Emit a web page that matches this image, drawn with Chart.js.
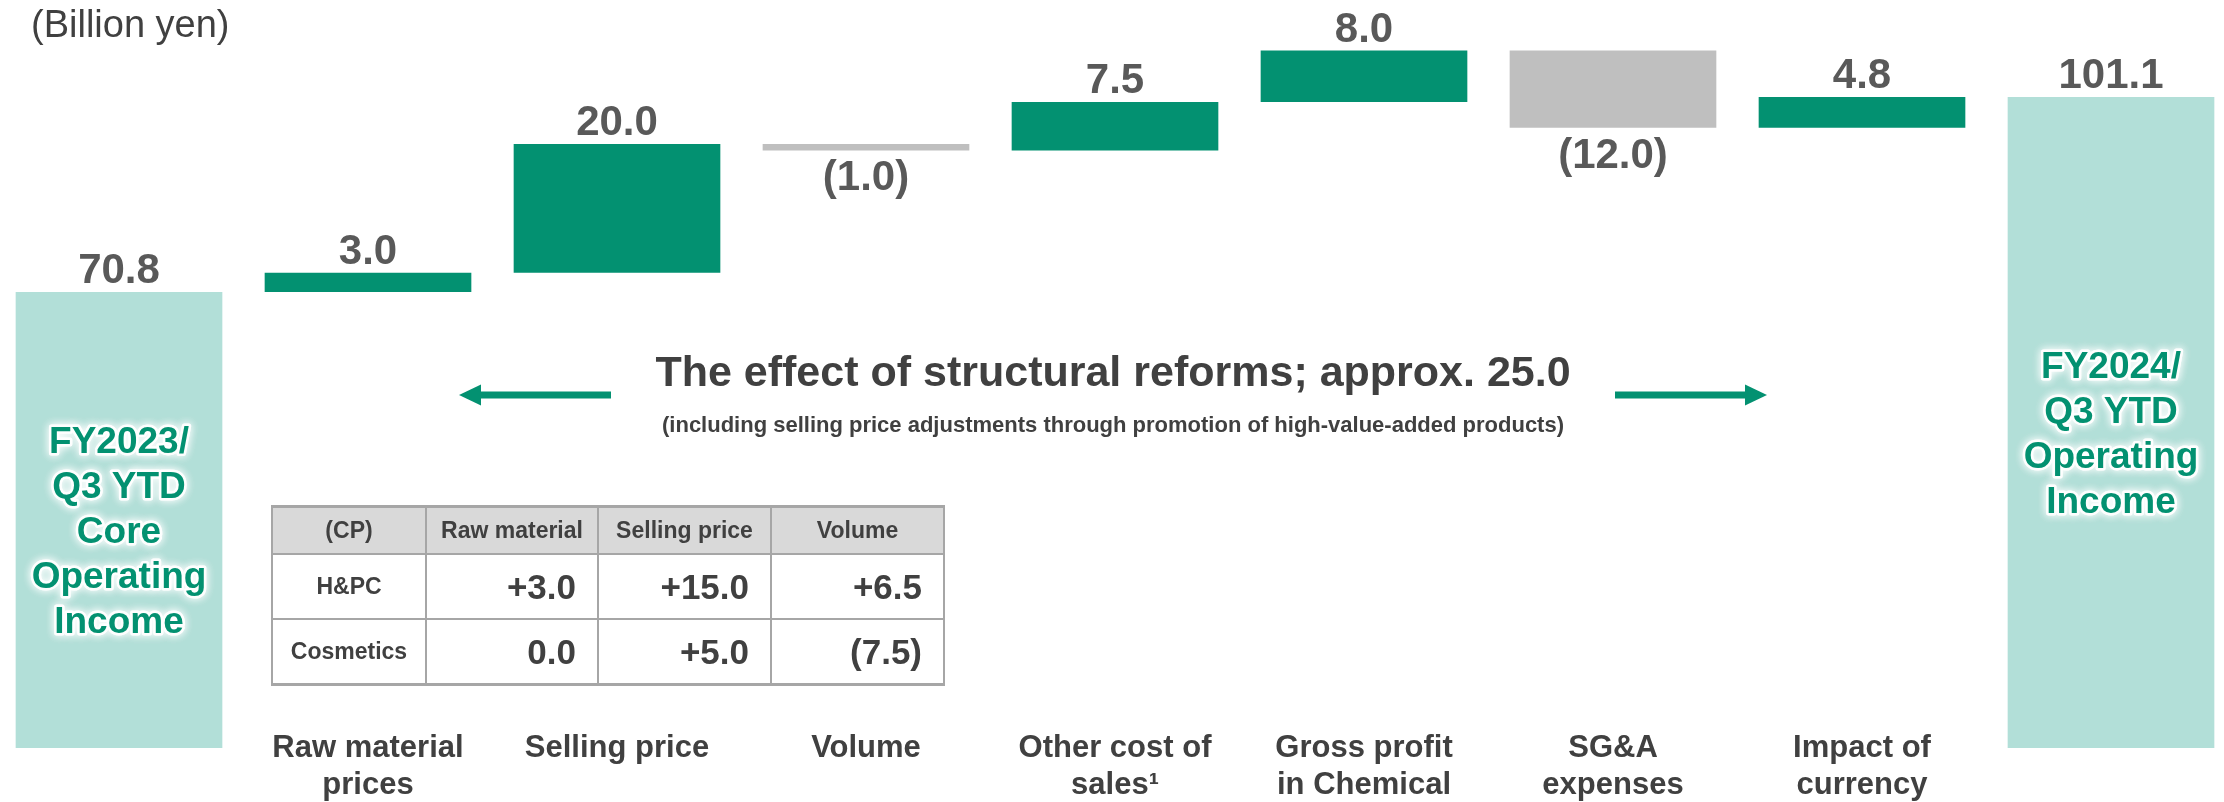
<!DOCTYPE html>
<html>
<head>
<meta charset="utf-8">
<script src="https://cdn.jsdelivr.net/npm/chart.js@4"></script>
<style>
html, body { margin: 0; padding: 0; background: #fff; }
#wrap { position: relative; width: 2224px; height: 802px; }
#cp {
    position: absolute; left: 271px; top: 505px;
    border-collapse: collapse; table-layout: fixed;
    font-family: "Liberation Sans", Arial, sans-serif; font-weight: bold; color: #404040;
}
#cp th, #cp td { border: 2px solid #A6A6A6; padding: 0; }
#cp th { background: #D9D9D9; font-size: 23px; height: 45px; text-align: center; font-weight: bold; }
#cp td { font-size: 35px; height: 63px; text-align: right; padding-right: 21px; }
#cp td.name { font-size: 23px; text-align: center; padding-right: 0; }
#cp tr:first-child th { border-top-width: 3px; }
#cp tr:last-child td { border-bottom-width: 3px; }
</style>
</head>
<body>
<div id="wrap">
    <canvas id="bridge"></canvas>
    <table id="cp"></table>
</div>
<script>
// chart data (billion yen)
const categories = [
    ['FY2023/', 'Q3 YTD', 'Core', 'Operating', 'Income'],
    ['Raw material', 'prices'],
    ['Selling price'],
    ['Volume'],
    ['Other cost of', 'sales\u00B9'],
    ['Gross profit', 'in Chemical'],
    ['SG&A', 'expenses'],
    ['Impact of', 'currency'],
    ['FY2024/', 'Q3 YTD', 'Operating', 'Income']
];
const startValue = 70.8;
const changes = [3.0, 20.0, -1.0, 7.5, 8.0, -12.0, 4.8];
const endValue = 101.1;

// CP breakdown table
const tableHeader = ['(CP)', 'Raw material', 'Selling price', 'Volume'];
const tableRows = ['H&PC', 'Cosmetics'];
const cpRawMaterial = [3.0, 0.0];
const cpSellingPrice = [15.0, 5.0];
const cpVolume = [6.5, -7.5];

const unitText = '(Billion yen)';
const reformTitle = 'The effect of structural reforms; approx. 25.0';
const reformNote = '(including selling price adjustments through promotion of high-value-added products)';

const GREEN = '#039171';
const TEAL = '#B2DFD8';
const GREY = '#BFBFBF';
const FONT = '"Liberation Sans", Arial, sans-serif';

// build floating bars
const barValues = [startValue, ...changes, endValue];
const ranges = [];
let running = startValue;
ranges.push([0, startValue]);
changes.forEach(c => {
    ranges.push([running, running + c]);
    running += c;
});
ranges.push([0, endValue]);
const colors = barValues.map((v, i) => {
    if (i === 0 || i === barValues.length - 1) return TEAL;
    return v < 0 ? GREY : GREEN;
});

function fmt(v) {
    return v < 0 ? '(' + Math.abs(v).toFixed(1) + ')' : v.toFixed(1);
}
function fmtSigned(v) {
    if (v > 0) return '+' + v.toFixed(1);
    if (v < 0) return '(' + Math.abs(v).toFixed(1) + ')';
    return v.toFixed(1);
}

// table
const table = document.getElementById('cp');
let html = '<colgroup><col style="width:154px"><col style="width:172px"><col style="width:173px"><col style="width:173px"></colgroup>';
html += '<tr>' + tableHeader.map(h => '<th>' + h + '</th>').join('') + '</tr>';
tableRows.forEach((name, i) => {
    html += '<tr><td class="name">' + name.replace('&', '&amp;') + '</td>'
        + '<td>' + fmtSigned(cpRawMaterial[i]) + '</td>'
        + '<td>' + fmtSigned(cpSellingPrice[i]) + '</td>'
        + '<td>' + fmtSigned(cpVolume[i]) + '</td></tr>';
});
table.innerHTML = html;

function drawArrow(ctx, tail, tip, y) {
    const dir = Math.sign(tip - tail);
    const head = 22;
    ctx.fillStyle = GREEN;
    ctx.fillRect(Math.min(tail, tip - dir * head), y - 3.5, Math.abs(tip - tail) - head, 7);
    ctx.beginPath();
    ctx.moveTo(tip, y);
    ctx.lineTo(tip - dir * head, y - 10.5);
    ctx.lineTo(tip - dir * head, y + 10.5);
    ctx.closePath();
    ctx.fill();
}

const bridgeLabels = {
    id: 'bridgeLabels',
    afterDatasetsDraw(chart) {
        const ctx = chart.ctx;
        const area = chart.chartArea;
        const bars = chart.getDatasetMeta(0).data;
        ctx.save();
        ctx.textAlign = 'center';
        ctx.textBaseline = 'alphabetic';

        bars.forEach((bar, i) => {
            const top = Math.min(bar.y, bar.base);
            const bottom = Math.max(bar.y, bar.base);
            const v = barValues[i];

            ctx.font = 'bold 42px ' + FONT;
            ctx.fillStyle = '#595959';
            if (v < 0) ctx.fillText(fmt(v), bar.x, bottom + 40);
            else ctx.fillText(fmt(v), bar.x, top - 9);

            const lines = categories[i];
            if (i === 0 || i === bars.length - 1) {
                // name inside the total bar, green with white glow
                ctx.font = 'bold 37px ' + FONT;
                const mid = (top + bottom) / 2 + 10;
                const first = mid - (lines.length - 1) / 2 * 45 + 13;
                lines.forEach((t, k) => {
                    const y = first + k * 45;
                    ctx.save();
                    ctx.shadowColor = '#ffffff';
                    ctx.shadowBlur = 9;
                    ctx.strokeStyle = 'rgba(255,255,255,0.75)';
                    ctx.lineWidth = 5;
                    ctx.lineJoin = 'round';
                    ctx.strokeText(t, bar.x, y);
                    ctx.strokeText(t, bar.x, y);
                    ctx.restore();
                    ctx.fillStyle = GREEN;
                    ctx.fillText(t, bar.x, y);
                });
            } else {
                ctx.font = 'bold 31px ' + FONT;
                ctx.fillStyle = '#404040';
                lines.forEach((t, k) => ctx.fillText(t, bar.x, area.bottom + 9 + k * 37));
            }
        });

        // unit
        ctx.textAlign = 'left';
        ctx.font = '38px ' + FONT;
        ctx.fillStyle = '#404040';
        ctx.fillText(unitText, 31, 37);

        // structural reform annotation
        ctx.textAlign = 'center';
        ctx.font = 'bold 43px ' + FONT;
        ctx.fillText(reformTitle, 1113, 386);
        ctx.font = 'bold 22px ' + FONT;
        ctx.fillText(reformNote, 1113, 432);
        drawArrow(ctx, 611, 459, 395);
        drawArrow(ctx, 1615, 1767, 395);

        ctx.restore();
    }
};

new Chart(document.getElementById('bridge'), {
    type: 'bar',
    data: {
        labels: categories,
        datasets: [{
            data: ranges,
            backgroundColor: colors,
            borderWidth: 0,
            barPercentage: 1,
            categoryPercentage: 0.83,
            clip: false
        }]
    },
    options: {
        responsive: true,
        maintainAspectRatio: false,
        animation: false,
        layout: {
            padding: { left: 119, right: 113, top: 10, bottom: 54 }
        },
        scales: {
            x: { display: false, offset: false },
            y: { display: false, min: 0, max: 114.6 }
        },
        plugins: {
            legend: { display: false },
            tooltip: { enabled: false }
        }
    },
    plugins: [bridgeLabels]
});
</script>
</body>
</html>
